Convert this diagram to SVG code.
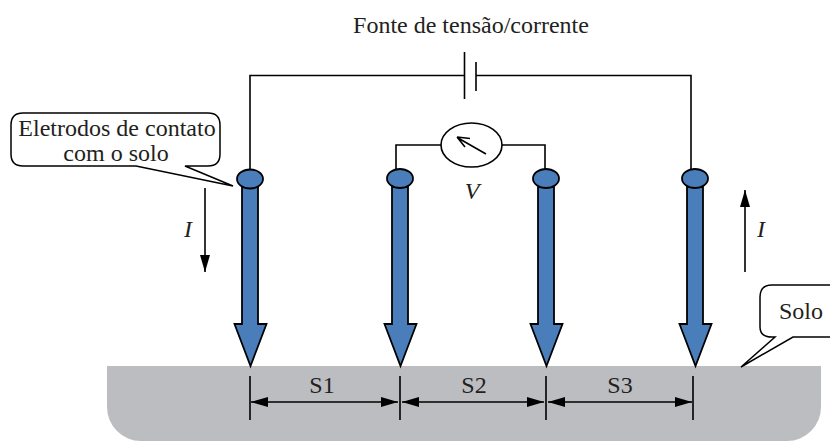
<svg xmlns="http://www.w3.org/2000/svg" width="830" height="441" viewBox="0 0 830 441">
<style>
text{font-family:"Liberation Serif","Times New Roman",serif;font-size:24px;fill:#231f20;text-anchor:middle}
.i{font-style:italic}
.w{fill:none;stroke:#000;stroke-width:1.6}
.e{fill:#4a7ebb;stroke:#000;stroke-width:1.8;stroke-linejoin:miter}
.c{fill:#fff;stroke:#000;stroke-width:1.5;stroke-linejoin:miter}
</style>
<defs>
<marker id="a" markerUnits="userSpaceOnUse" markerWidth="18" markerHeight="10" refX="17" refY="5" orient="auto-start-reverse" viewBox="0 0 18 10"><path d="M0 0L17 5L0 10z" fill="#000"/></marker>
<marker id="b" markerUnits="userSpaceOnUse" markerWidth="18" markerHeight="10" refX="17" refY="5" orient="auto" viewBox="0 0 18 10"><path d="M0 0L17 5L0 10z" fill="#000"/></marker>
</defs>
<g id="soil"><path d="M107 366H821V407A34 34 0 0 1 787 441H141A34 34 0 0 1 107 407Z" fill="#bcbdc0"/></g>
<g id="connectors">
<path class="w" d="M250 170V75.500H464M476 75.500H691V170"/>
<path class="w" d="M464.500 52V99M476 62V91"/>
<path class="w" d="M396 170V145H441M502 145H545V170"/>
<path class="w" d="M205 188V272" marker-end="url(#b)"/>
<path class="w" d="M745 272V190" marker-end="url(#b)"/>
<path class="w" d="M250 376V420M400 376V420M546 376V420M693 376V420"/>
<path class="w" d="M251 402H398" marker-start="url(#a)" marker-end="url(#a)"/>
<path class="w" d="M402 402H544" marker-start="url(#a)" marker-end="url(#a)"/>
<path class="w" d="M548 402H692" marker-start="url(#a)" marker-end="url(#a)"/>
</g>
<g id="electrode1"><path class="e" d="M242 187V324H234.500L250.500 366L266.500 324H258V187Z"/><ellipse class="e" cx="250" cy="179" rx="13" ry="9.500"/></g>
<g id="electrode2"><path class="e" d="M392 187V324H384.500L400.500 366L416.500 324H408V187Z"/><ellipse class="e" cx="400" cy="178.500" rx="13" ry="9.500"/></g>
<g id="electrode3"><path class="e" d="M538 187V324H530.500L546.500 366L562.500 324H554V187Z"/><ellipse class="e" cx="546" cy="178.500" rx="13" ry="9.500"/></g>
<g id="electrode4"><path class="e" d="M687 187V324H679.500L695.500 366L711.500 324H703V187Z"/><ellipse class="e" cx="695" cy="178.500" rx="13" ry="9.500"/></g>
<g id="meter">
<ellipse cx="471.500" cy="145" rx="30.500" ry="22" fill="#fff" stroke="#000" stroke-width="1.6"/>
<path class="w" d="M486 154L458 138M457 137L470 138.500M457 137L465 147"/>
<text class="i" x="472" y="199">V</text>
</g>
<g id="source"><text x="471" y="33">Fonte de tensão/corrente</text></g>
<g id="callout-eletrodos">
<path class="c" d="M23 113H208Q220 113 220 125V154Q220 166 208 166H185L233 186L136 166H23Q11 166 11 154V125Q11 113 23 113Z"/>
<text x="117" y="136">Eletrodos de contato</text>
<text x="116" y="161">com o solo</text>
</g>
<g id="callout-solo">
<path class="c" d="M830 285H772Q760 285 760 297V327Q760 337 772 337H775L741 367L793 337H830"/>
<text x="801" y="319">Solo</text>
</g>
<g id="labels">
<text class="i" x="188" y="237">I</text>
<text class="i" x="761" y="237">I</text>
<text x="322" y="393">S1</text>
<text x="474" y="393">S2</text>
<text x="620" y="393">S3</text>
</g>
</svg>
